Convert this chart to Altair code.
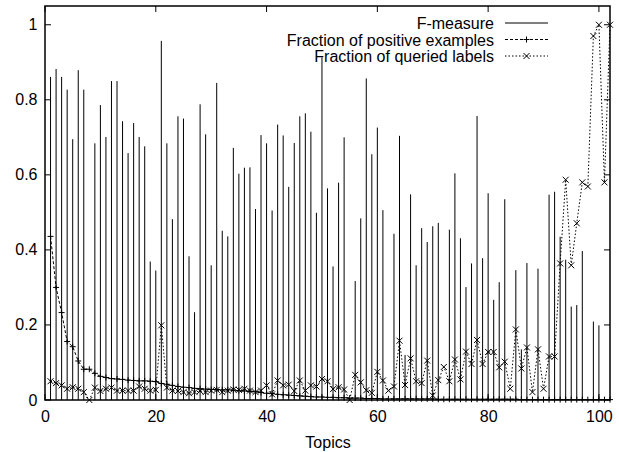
import altair as alt
import pandas as pd

topics = list(range(1, 103))

f_measure = [
    0.861, 0.882, 0.861, 0.827, 0.695, 0.879, 0.827, 0.0, 0.684, 0.786,
    0.701, 0.850, 0.850, 0.743, 0.658, 0.738, 0.701, 0.676, 0.369, 0.345,
    0.957, 0.684, 0.482, 0.756, 0.750, 0.383, 0.234, 0.788, 0.708, 0.359,
    0.845, 0.451, 0.436, 0.672, 0.603, 0.619, 0.620, 0.509, 0.706, 0.684,
    0.505, 0.734, 0.705, 0.568, 0.685, 0.756, 0.764, 0.715, 0.499, 0.913,
    0.564, 0.356, 0.579, 0.700, 0.0, 0.317, 0.484, 0.857, 0.655, 0.726,
    0.506, 0.0, 0.443, 0.704, 0.120, 0.548, 0.359, 0.458, 0.421, 0.463,
    0.472, 0.0, 0.454, 0.604, 0.431, 0.301, 0.364, 0.757, 0.378, 0.551,
    0.267, 0.314, 0.535, 0.0, 0.346, 0.135, 0.365, 0.0, 0.350, 0.0,
    0.547, 0.555, 0.435, 0.374, 0.249, 0.253, 0.397, 0.0, 0.209, 0.199,
    0.0, 0.0,
]

positive_frac = [
    0.436, 0.300, 0.233, 0.156, 0.142, 0.104, 0.082, 0.082, 0.071, 0.063,
    0.060, 0.057, 0.056, 0.055, 0.053, 0.052, 0.051, 0.051, 0.050, 0.049,
    0.044, 0.042, 0.039, 0.036, 0.034, 0.033, 0.031, 0.030, 0.029, 0.028,
    0.028, 0.027, 0.027, 0.026, 0.025, 0.024, 0.023, 0.022, 0.020, 0.018,
    0.017, 0.015, 0.014, 0.013, 0.012, 0.011, 0.010, 0.009, 0.008, 0.008,
    0.007, 0.007, 0.006, 0.006, 0.005, 0.005, 0.005, 0.004, 0.004, 0.004,
    0.003, 0.003, 0.003, 0.003, 0.003, 0.003, 0.003, 0.003, 0.003, 0.003,
    0.002, 0.002, 0.002, 0.002, 0.002, 0.002, 0.002, 0.002, 0.002, 0.002,
    0.002, 0.002, 0.002, 0.002, 0.002, 0.001, 0.001, 0.001, 0.001, 0.001,
    0.001, 0.001, 0.001, 0.001, 0.001, 0.001, 0.001, 0.001, 0.001, 0.001,
    0.001, 0.001,
]

queried_frac = [
    0.050, 0.045, 0.039, 0.030, 0.034, 0.030, 0.021, 0.000, 0.033, 0.024,
    0.030, 0.033, 0.025, 0.025, 0.025, 0.025, 0.036, 0.030, 0.025, 0.027,
    0.199, 0.033, 0.025, 0.024, 0.021, 0.018, 0.021, 0.024, 0.021, 0.025,
    0.027, 0.021, 0.025, 0.028, 0.027, 0.030, 0.025, 0.021, 0.025, 0.039,
    0.015, 0.052, 0.039, 0.041, 0.024, 0.052, 0.025, 0.039, 0.036, 0.056,
    0.050, 0.029, 0.034, 0.028, 0.000, 0.067, 0.047, 0.026, 0.019, 0.075,
    0.052, 0.025, 0.036, 0.158, 0.040, 0.111, 0.050, 0.045, 0.105, 0.012,
    0.053, 0.088, 0.050, 0.108, 0.055, 0.129, 0.096, 0.160, 0.096, 0.128,
    0.128, 0.087, 0.102, 0.030, 0.188, 0.084, 0.140, 0.021, 0.135, 0.030,
    0.116, 0.116, 0.364, 0.587, 0.359, 0.471, 0.580, 0.569, 0.970, 1.000,
    0.580, 1.000,
]

x_ticks = [0, 20, 40, 60, 80, 100]
y_ticks = [0, 0.2, 0.4, 0.6, 0.8, 1.0]
legend_labels = ["F-measure", "Fraction of positive examples", "Fraction of queried labels"]

FONT = "Liberation Sans"
W, H = 565, 394
PLUS = "M-1,0L1,0M0,-1L0,1"
CROSS = "M-1,-1L1,1M-1,1L1,-1"

df = pd.DataFrame({
    "topic": topics,
    "f": f_measure,
    "pos": positive_frac,
    "qry": queried_frac,
    "base": [0.0] * len(topics),
})

xscale = alt.Scale(domain=[0, 102], nice=False, zero=False)
yscale = alt.Scale(domain=[0, 1.05], nice=False, zero=False)

xaxis = alt.Axis(values=x_ticks, ticks=False, domain=False, grid=False,
                 labelFont=FONT, labelFontSize=16, labelColor="black",
                 labelPadding=8, title="Topics", titleFont=FONT,
                 titleFontSize=16, titleFontWeight="normal", titleColor="black",
                 titlePadding=10, labelFlush=False)
yaxis = alt.Axis(values=y_ticks, ticks=False, domain=False, grid=False,
                 labelFont=FONT, labelFontSize=16, labelColor="black",
                 labelPadding=8, format=".1~f", title="", labelFlush=False)


def X(field):
    return alt.X(field, scale=xscale, axis=xaxis)


def Y(field):
    return alt.Y(field, scale=yscale, axis=yaxis)


base = alt.Chart(df)

impulses = base.mark_rule(color="black", strokeWidth=1).encode(
    x=X("topic:Q"), y=Y("f:Q"), y2="base:Q",
)

pos_line = base.mark_line(color="black", strokeWidth=1, strokeDash=[3, 2]).encode(
    x=X("topic:Q"), y=Y("pos:Q"))
pos_pts = base.mark_point(shape=PLUS, size=36, filled=False, color="black",
                          strokeWidth=1, opacity=1).encode(
    x=X("topic:Q"), y=Y("pos:Q"))
qry_line = base.mark_line(color="black", strokeWidth=1, strokeDash=[1.5, 2]).encode(
    x=X("topic:Q"), y=Y("qry:Q"))
qry_pts = base.mark_point(shape=CROSS, size=36, filled=False, color="black",
                          strokeWidth=1, opacity=1).encode(
    x=X("topic:Q"), y=Y("qry:Q"))

# inward tick marks on all four sides (gnuplot style)
ydf = pd.DataFrame({"v": y_ticks})
xdf = pd.DataFrame({"v": x_ticks})
TL = 6
yt_left = alt.Chart(ydf).mark_rule(color="black", strokeWidth=1).encode(
    y=Y("v:Q"), x=alt.value(0), x2=alt.value(TL))
yt_right = alt.Chart(ydf).mark_rule(color="black", strokeWidth=1).encode(
    y=Y("v:Q"), x=alt.value(W - TL), x2=alt.value(W))
xt_bottom = alt.Chart(xdf).mark_rule(color="black", strokeWidth=1).encode(
    x=X("v:Q"), y=alt.value(H - TL), y2=alt.value(H))
xt_top = alt.Chart(xdf).mark_rule(color="black", strokeWidth=1).encode(
    x=X("v:Q"), y=alt.value(0), y2=alt.value(TL))

# gnuplot-style key: label on the left, line sample on the right
one = pd.DataFrame({"k": [0]})
TX, S0, S1 = 449, 460, 503
SC = (S0 + S1) / 2
rows = [17, 33.5, 50]
legend_layers = []
for lab, ry in zip(legend_labels, rows):
    legend_layers.append(
        alt.Chart(one).mark_text(align="right", baseline="middle", font=FONT,
                                 fontSize=16, color="black", text=lab).encode(
            x=alt.value(TX), y=alt.value(ry + 1)))
legend_layers.append(alt.Chart(one).mark_rule(color="black", strokeWidth=1).encode(
    x=alt.value(S0), x2=alt.value(S1), y=alt.value(rows[0])))
legend_layers.append(alt.Chart(one).mark_rule(color="black", strokeWidth=1, strokeDash=[3, 2]).encode(
    x=alt.value(S0), x2=alt.value(S1), y=alt.value(rows[1])))
legend_layers.append(alt.Chart(one).mark_point(shape=PLUS, size=36, filled=False, color="black",
                                               strokeWidth=1, opacity=1).encode(
    x=alt.value(SC), y=alt.value(rows[1])))
legend_layers.append(alt.Chart(one).mark_rule(color="black", strokeWidth=1, strokeDash=[1.5, 2]).encode(
    x=alt.value(S0), x2=alt.value(S1), y=alt.value(rows[2])))
legend_layers.append(alt.Chart(one).mark_point(shape=CROSS, size=36, filled=False, color="black",
                                               strokeWidth=1, opacity=1).encode(
    x=alt.value(SC), y=alt.value(rows[2])))

chart = alt.layer(
    impulses, pos_line, pos_pts, qry_line, qry_pts,
    yt_left, yt_right, xt_bottom, xt_top, *legend_layers
).properties(
    width=W, height=H,
    autosize=alt.AutoSizeParams(type="none"),
    padding={"left": 45, "top": 6, "right": 9, "bottom": 52},
    background="white",
).configure_view(stroke="black", strokeWidth=1.5)

chart.save("out.html", embed_options={"renderer": "svg", "actions": False})
